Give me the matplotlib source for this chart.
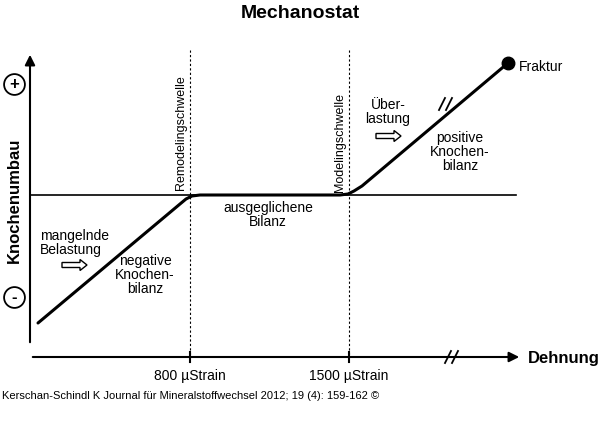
import matplotlib
matplotlib.use("Agg")
import matplotlib.pyplot as plt
import numpy as np

# data (pixel-like strain / response space)
curve_x = [38, 180, 186, 192, 200, 340, 348, 354, 362, 508]
curve_y = [323, 204, 199, 196, 195, 195, 194, 191, 186, 63]
thresholds = [190, 349]
threshold_labels = ["800 µStrain", "1500 µStrain"]
threshold_names = ["Remodelingschwelle", "Modelingschwelle"]

fig = plt.figure(figsize=(6, 4.44), dpi=100)
ax = fig.add_axes([0, 0, 1, 1])
ax.set_xlim(0, 600); ax.set_ylim(444, 0); ax.axis("off")

ax.text(300, 14, "Mechanostat", ha="center", va="center", fontsize=14, fontweight="bold", family="Liberation Sans")
# axes arrows
ax.annotate("", xy=(522, 357), xytext=(30, 357), arrowprops=dict(arrowstyle="-|>", lw=1.5, color="k", mutation_scale=15))
ax.annotate("", xy=(30, 52), xytext=(30, 345), arrowprops=dict(arrowstyle="-|>", lw=1.5, color="k", mutation_scale=15))
ax.plot([30, 516], [195, 195], color="k", lw=1.2)
for t, lab, nm in zip(thresholds, threshold_labels, threshold_names):
    ax.plot([t, t], [50, 357], color="k", lw=0.8, ls=(0, (2, 2)))
    ax.plot([t, t], [352, 362], color="k", lw=1.5)
    ax.text(t, 376, lab, ha="center", va="center", fontsize=10, family="Liberation Sans")
    ax.text(t - 9, 190 if t < 300 else 192, nm, ha="center", va="bottom", rotation=90, fontsize=9, family="Liberation Sans")
ax.plot(curve_x, curve_y, color="k", lw=2.2, solid_capstyle="round")
ax.plot([curve_x[-1]], [curve_y[-1]], "o", color="k", ms=9)
ax.text(519, 67, "Fraktur", va="center", fontsize=10, family="Liberation Sans")
ax.text(528, 358, "Dehnung", va="center", fontsize=12, fontweight="bold", family="Liberation Sans")
ax.text(14, 200, "Knochenumbau", rotation=90, ha="center", va="center", fontsize=12, fontweight="bold", family="Liberation Sans")
for yy, s in [(84, "+"), (297, "-")]:
    ax.plot([14], [yy], "o", ms=15, mfc="white", mec="k", mew=1.3)
    ax.text(14, yy, s, ha="center", va="center", fontsize=12, fontweight="bold", family="Liberation Sans")
# break marks
for bx, by in [(452, 357), (446, 104)]:
    ax.plot([bx - 7, bx - 1], [by + 6, by - 6], color="k", lw=1.3)
    ax.plot([bx, bx + 6], [by + 6, by - 6], color="k", lw=1.3)
kw = dict(fontsize=10, family="Liberation Sans", linespacing=1.0)
ax.text(40, 243, "mangelnde\nBelastung", ha="left", va="center", **kw)
ax.text(145, 275, "negative\nKnochen-\nbilanz", ha="center", va="center", **kw)
ax.text(268, 215, "ausgeglichene\nBilanz", ha="center", va="center", **kw)
ax.text(388, 112, "Über-\nlastung", ha="center", va="center", **kw)
ax.text(460, 152, "positive\nKnochen-\nbilanz", ha="center", va="center", **kw)
for ax0, ay in [(62, 265), (376, 136)]:
    ax.add_patch(matplotlib.patches.FancyArrow(ax0, ay, 18, 0, width=5, head_width=11, head_length=7,
                                              fc="white", ec="k", lw=1))
ax.text(2, 396, "Kerschan-Schindl K Journal für Mineralstoffwechsel 2012; 19 (4): 159-162 ©",
        va="center", fontsize=8, family="Liberation Sans")
fig.savefig("out.png", dpi=100)
